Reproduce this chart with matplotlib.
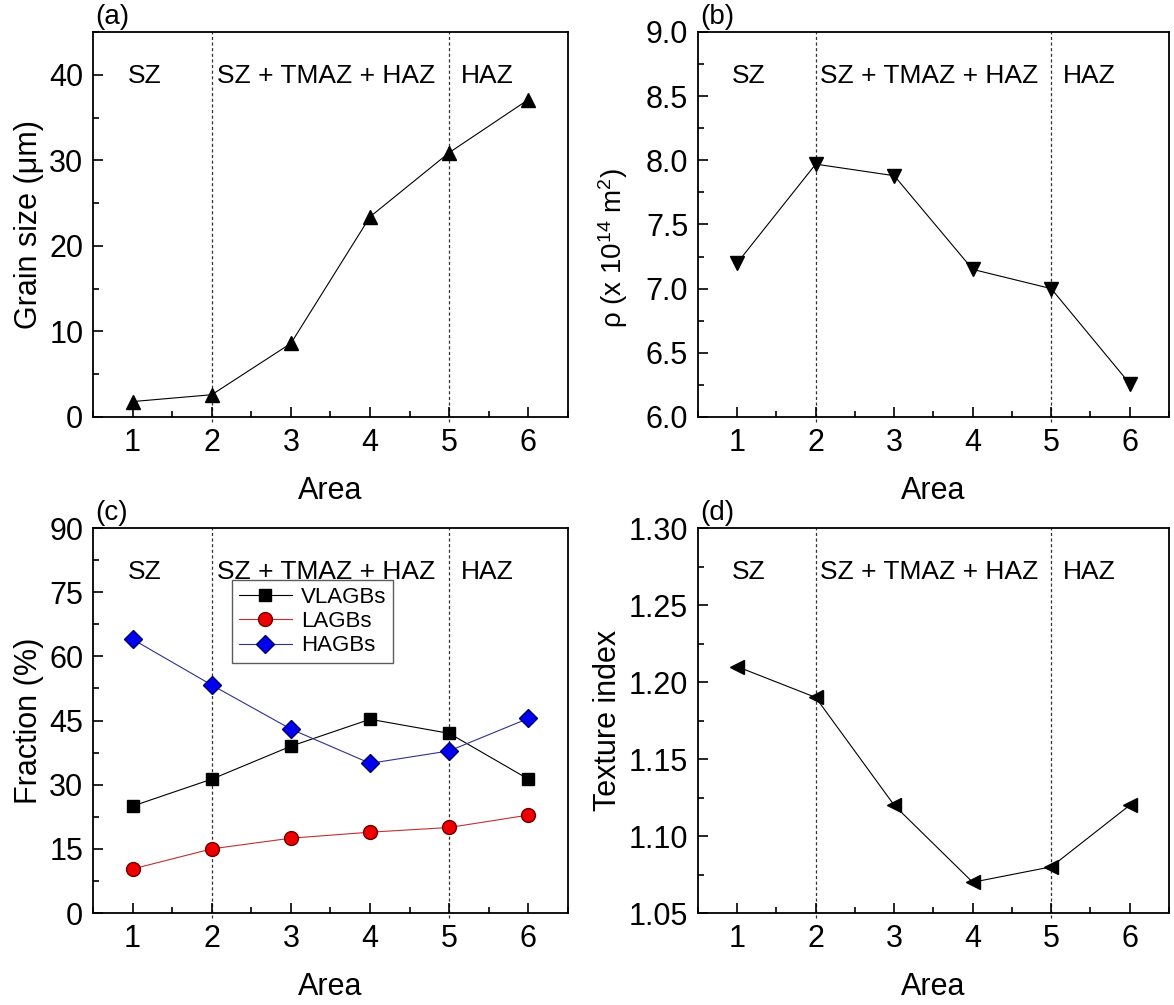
import numpy as np
import matplotlib
matplotlib.use("Agg")
from matplotlib import pyplot as plt
from matplotlib.ticker import MultipleLocator

plt.rcParams["font.family"] = ["Liberation Sans", "DejaVu Sans"]
plt.rcParams["mathtext.fontset"] = "custom"
plt.rcParams["mathtext.rm"] = "Liberation Sans"
plt.rcParams["mathtext.it"] = "Liberation Sans:italic"

area = [1, 2, 3, 4, 5, 6]
grain_size = [1.8, 2.6, 8.6, 23.4, 30.9, 37.1]
rho = [7.2, 7.97, 7.88, 7.15, 7.0, 6.26]
vlagbs = [25.0, 31.3, 39.0, 45.3, 42.0, 31.3]
lagbs = [10.3, 15.0, 17.5, 18.9, 20.0, 22.9]
hagbs = [64.0, 53.3, 43.0, 35.0, 37.9, 45.5]
texture = [1.21, 1.19, 1.12, 1.07, 1.08, 1.12]

zone_names = ["SZ", "SZ + TMAZ + HAZ", "HAZ"]
zone_x = [1.15, 3.45, 5.48]
zone_bounds = [2, 5]

fig = plt.figure(figsize=(11.74, 10.05), dpi=100)
w, h = 0.4046, 0.3831
pos = {"a": [0.0792, 0.5851, w, h], "b": [0.5945, 0.5851, 0.4012, h],
       "c": [0.0792, 0.0915, w, h], "d": [0.5945, 0.0915, 0.4012, h]}


def style_axes(ax, letter, ylim, ymajor, yfmt=None):
    ax.set_xlim(0.5, 6.5)
    ax.set_ylim(*ylim)
    ax.xaxis.set_major_locator(MultipleLocator(1))
    ax.xaxis.set_minor_locator(MultipleLocator(0.5))
    ax.yaxis.set_major_locator(MultipleLocator(ymajor))
    ax.yaxis.set_minor_locator(MultipleLocator(ymajor / 2))
    if yfmt:
        ax.yaxis.set_major_formatter(yfmt)
    ax.tick_params(which="both", direction="in", top=False, right=False,
                   labelsize=22, width=1.2)
    ax.tick_params(axis="x", pad=8)
    ax.tick_params(axis="y", pad=7)
    ax.tick_params(which="major", length=7)
    ax.tick_params(which="minor", length=4)
    for s in ax.spines.values():
        s.set_linewidth(1.3)
    ax.set_xlabel("Area", fontsize=22, labelpad=13)
    for xb in zone_bounds:
        ax.axvline(xb, ymin=-0.012, color="#333333", lw=0.9,
                   ls=(0, (2.5, 2)), zorder=1, clip_on=False)
    for name, xz in zip(zone_names, zone_x):
        ax.text(xz, 0.885, name, transform=ax.get_xaxis_transform(),
                ha="center", va="center", fontsize=19)
    ax.text(0.005, 1.005, "(%s)" % letter, transform=ax.transAxes,
            ha="left", va="bottom", fontsize=20)


# (a) grain size
ax = fig.add_axes(pos["a"])
ax.plot(area, grain_size, color="black", lw=0.8, marker="^", ms=10, zorder=3)
style_axes(ax, "a", (0, 45), 10)
ax.set_ylabel("Grain size (\u03bcm)", fontsize=22)

# (b) dislocation density
ax = fig.add_axes(pos["b"])
ax.plot(area, rho, color="black", lw=0.8, marker="v", ms=10, zorder=3)
style_axes(ax, "b", (6.0, 9.0), 0.5, "{x:.1f}")
ax.set_ylabel("\u03c1 (x 10$^{14}$ m$^{2}$)", fontsize=20)
ax.yaxis.set_label_coords(-0.145, 0.44)

# (c) boundary fractions
ax = fig.add_axes(pos["c"])
ax.plot(area, vlagbs, color="black", lw=0.8, marker="s", ms=9,
        mfc="black", mec="black", label="VLAGBs", zorder=3)
ax.plot(area, lagbs, color="#c03030", lw=0.8, marker="o", ms=10,
        mfc="#ee0000", mec="#700000", label="LAGBs", zorder=3)
ax.plot(area, hagbs, color="#303090", lw=0.8, marker="D", ms=9,
        mfc="#0000ee", mec="#000070", label="HAGBs", zorder=3)
style_axes(ax, "c", (0, 90), 15)
ax.set_ylabel("Fraction (%)", fontsize=22)
leg = ax.legend(loc="upper left", bbox_to_anchor=(0.293, 0.865), fontsize=16,
                frameon=True, fancybox=False, edgecolor="#333333",
                handlelength=2.4, labelspacing=0.15, borderpad=0.3,
                handletextpad=0.4, borderaxespad=0)
leg.get_frame().set_linewidth(1.0)

# (d) texture index
ax = fig.add_axes(pos["d"])
ax.plot(area, texture, color="black", lw=0.8, marker="<", ms=10, zorder=3)
style_axes(ax, "d", (1.05, 1.30), 0.05, "{x:.2f}")
ax.set_ylabel("Texture index", fontsize=22)

fig.savefig("out.png", dpi=100)
